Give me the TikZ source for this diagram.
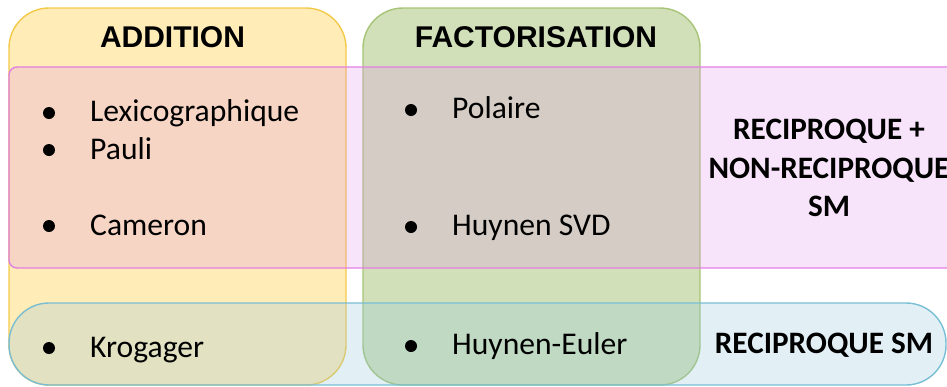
\documentclass[tikz,border=0pt]{standalone}
\usepackage{fontspec}
\setmainfont{Carlito}
\newfontfamily\headfont{Liberation Sans}
\definecolor{yfill}{RGB}{255,236,183}
\definecolor{ydraw}{RGB}{243,201,74}
\definecolor{gfill}{RGB}{209,224,185}
\definecolor{gdraw}{RGB}{166,196,118}
\definecolor{pfill}{RGB}{227,147,235}
\definecolor{pdraw}{RGB}{226,128,226}
\definecolor{bfill}{RGB}{151,201,223}
\definecolor{bdraw}{RGB}{120,190,212}
\begin{document}
\begin{tikzpicture}[x=1pt,y=-1pt,
  box/.style={rectangle, inner sep=0pt, line width=1.4pt},
  head/.style={font=\headfont\bfseries\fontsize{30}{34}\selectfont, anchor=base, inner sep=0pt},
  item/.style={font=\fontsize{31.6}{36}\selectfont, anchor=base west, inner sep=0pt},
  label/.style={font=\bfseries\fontsize{31.2}{36}\selectfont, anchor=base, inner sep=0pt},
  dot/.style={circle, fill=black, inner sep=0pt, minimum size=12pt}]
\useasboundingbox (0,0) rectangle (947,386);
\clip (0,0) rectangle (947,386);
% boxes
\node[box, fill=yfill, draw=ydraw, rounded corners=40pt, minimum width=337pt, minimum height=377pt] (addbox) at (177.5,196.5) {};
\node[box, fill=gfill, draw=gdraw, rounded corners=40pt, minimum width=337pt, minimum height=377pt] (facbox) at (531.5,196.5) {};
\node[box, fill=pfill, fill opacity=0.25, draw=pdraw, rounded corners=8pt, minimum width=949pt, minimum height=201pt] (nrbox) at (483.5,167.5) {};
\node[box, fill=bfill, fill opacity=0.28, draw=bdraw, rounded corners=40pt, minimum width=937pt, minimum height=82pt] (rbox) at (477.5,344) {};
% headers
\node[head] (addt) at (172.5,47) {ADDITION};
\node[head] (fact) at (536,47) {FACTORISATION};
% left column
\node[dot] (d1) at (49,113) {};
\node[item] (lex) at (90,121) {Lexicographique};
\node[dot] (d2) at (49,150) {};
\node[item] (pau) at (90,159) {Pauli};
\node[dot] (d3) at (49,226) {};
\node[item] (cam) at (90,235) {Cameron};
\node[dot] (d4) at (49,348) {};
\node[item] (kro) at (90,357) {Krogager};
% middle column
\node[dot] (d5) at (411,110) {};
\node[item] (pol) at (452,118) {Polaire};
\node[dot] (d6) at (411,227) {};
\node[item] (svd) at (452,235) {Huynen SVD};
\node[dot] (d7) at (411,346) {};
\node[item] (eul) at (452,354) {Huynen-Euler};
% right labels
\node[label] (l1) at (829,139) {RECIPROQUE +};
\node[label] (l2) at (829,178) {NON-RECIPROQUE};
\node[label] (l3) at (829,216) {SM};
\node[label] (l4) at (824,353) {RECIPROQUE SM};
\end{tikzpicture}
\end{document}
